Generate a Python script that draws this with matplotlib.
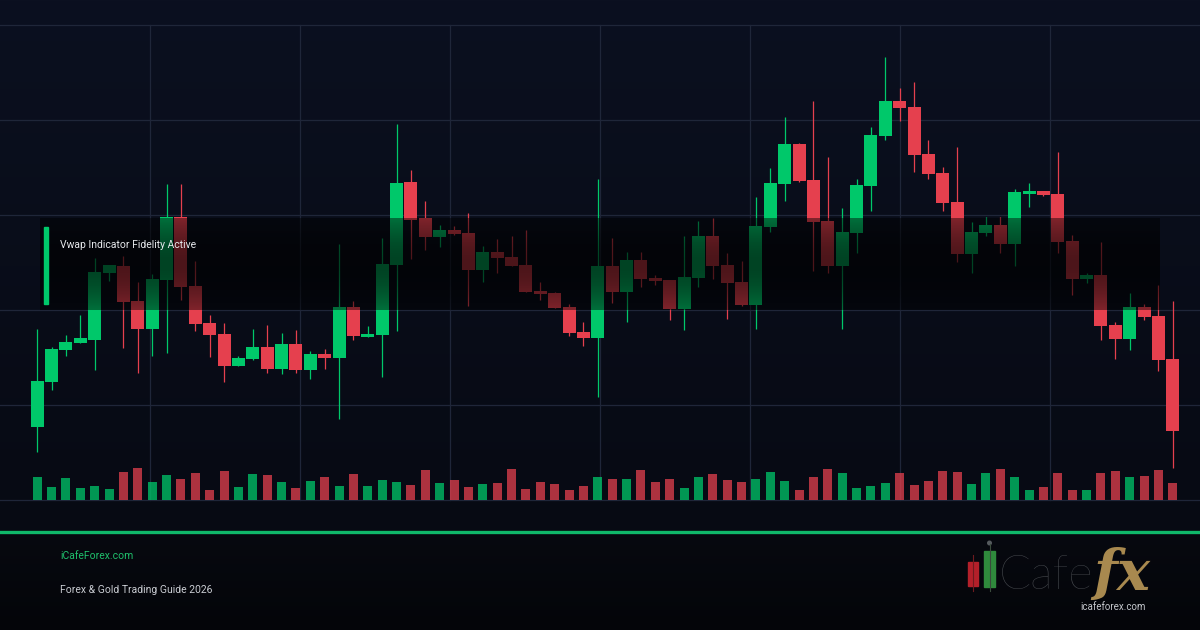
import numpy as np
import matplotlib.pyplot as plt
from matplotlib.colors import to_rgb
from matplotlib.patches import Rectangle, Circle
from matplotlib.lines import Line2D

# OHLC (80 candles)
opens = [2614.7, 2623.7, 2630.1, 2631.5, 2632.0, 2645.5, 2646.8, 2639.8, 2634.2, 2644.0,
         2656.6, 2642.8, 2635.5, 2633.2, 2626.9, 2628.2, 2630.6, 2626.3, 2631.2, 2626.1,
         2629.2, 2628.5, 2638.6, 2632.6, 2633.0, 2647.0, 2663.5, 2656.3, 2652.7, 2654.0,
         2653.4, 2646.0, 2649.6, 2648.6, 2647.0, 2641.8, 2641.4, 2638.6, 2633.7, 2632.4,
         2646.8, 2641.6, 2648.0, 2644.4, 2644.0, 2638.2, 2644.4, 2652.8, 2647.0, 2643.6,
         2639.0, 2654.6, 2663.2, 2671.2, 2664.0, 2655.8, 2646.8, 2653.4, 2662.8, 2672.8,
         2679.8, 2678.6, 2669.2, 2665.4, 2659.6, 2649.2, 2653.4, 2655.0, 2651.2, 2661.2,
         2661.8, 2661.2, 2651.8, 2644.2, 2645.0, 2635.0, 2632.2, 2638.6, 2636.8, 2628.2]
highs = [2634.2, 2630.7, 2633.0, 2637.1, 2648.5, 2647.1, 2648.8, 2643.6, 2645.3, 2663.2,
         2663.2, 2647.8, 2637.0, 2635.4, 2628.9, 2634.2, 2635.0, 2633.4, 2634.0, 2629.8,
         2630.2, 2651.2, 2639.8, 2634.8, 2652.4, 2675.2, 2666.0, 2659.8, 2655.0, 2654.8,
         2657.4, 2650.8, 2652.3, 2652.9, 2654.1, 2643.6, 2641.6, 2639.2, 2635.7, 2664.2,
         2652.5, 2649.6, 2649.6, 2645.0, 2644.0, 2652.8, 2655.8, 2656.4, 2649.4, 2647.8,
         2660.6, 2666.4, 2676.6, 2671.4, 2679.8, 2668.6, 2658.4, 2664.2, 2674.6, 2688.6,
         2682.4, 2683.6, 2672.0, 2666.6, 2670.6, 2655.6, 2656.6, 2656.6, 2662.2, 2663.4,
         2661.8, 2669.6, 2653.0, 2645.4, 2651.6, 2635.6, 2641.4, 2639.2, 2643.0, 2639.8]
lows = [2609.7, 2622.1, 2628.8, 2631.5, 2626.0, 2643.8, 2630.5, 2625.5, 2628.9, 2629.5,
        2640.0, 2633.8, 2628.7, 2623.7, 2626.9, 2628.1, 2625.5, 2625.3, 2625.5, 2624.3,
        2626.3, 2616.3, 2632.1, 2632.6, 2624.7, 2633.9, 2648.3, 2650.0, 2650.7, 2653.1,
        2638.9, 2643.7, 2645.4, 2646.9, 2641.6, 2640.0, 2638.4, 2632.9, 2630.9, 2620.7,
        2639.5, 2635.7, 2642.7, 2643.0, 2636.0, 2634.0, 2642.7, 2644.2, 2636.2, 2638.8,
        2634.2, 2653.6, 2659.8, 2663.6, 2645.9, 2645.4, 2634.2, 2649.4, 2657.8, 2672.0,
        2675.8, 2665.6, 2664.2, 2657.8, 2647.6, 2645.4, 2652.8, 2649.4, 2646.8, 2658.6,
        2660.8, 2649.4, 2641.0, 2643.4, 2632.0, 2628.2, 2630.0, 2636.0, 2625.8, 2606.4]
closes = [2623.8, 2630.2, 2631.6, 2632.3, 2645.6, 2646.9, 2639.6, 2634.2, 2644.2, 2656.6,
          2642.6, 2635.2, 2633.0, 2626.9, 2628.4, 2630.6, 2626.3, 2631.2, 2626.1, 2629.2,
          2628.5, 2638.6, 2632.8, 2633.2, 2647.2, 2663.5, 2656.1, 2652.7, 2654.0, 2653.3,
          2646.0, 2649.6, 2648.5, 2646.9, 2641.6, 2641.2, 2638.4, 2633.4, 2632.4, 2646.8,
          2641.6, 2648.0, 2644.2, 2643.8, 2638.2, 2644.6, 2652.8, 2646.9, 2643.4, 2639.0,
          2654.8, 2663.4, 2671.2, 2663.8, 2655.7, 2646.8, 2653.6, 2663.0, 2673.0, 2679.8,
          2678.5, 2669.0, 2665.2, 2659.4, 2649.2, 2653.6, 2655.0, 2651.2, 2661.6, 2661.8,
          2661.0, 2651.6, 2644.2, 2645.0, 2634.8, 2632.2, 2638.6, 2636.6, 2628.0, 2613.8]
volumes = [2300, 1300, 2200, 1200, 1400, 1100, 2800, 3200, 1800, 2500,
           2100, 2700, 1000, 2900, 1300, 2600, 2500, 1800, 1200, 1900,
           2300, 1400, 2600, 1400, 2000, 1800, 1500, 3000, 1700, 2000,
           1300, 1600, 1700, 3100, 1100, 1800, 1600, 1000, 1400, 2300,
           2100, 2100, 3000, 1800, 2100, 1200, 2300, 2600, 2000, 1800,
           2100, 2800, 1900, 1000, 2300, 3100, 2700, 1200, 1400, 1700,
           2700, 1500, 1900, 2900, 2800, 1600, 2700, 3100, 2300, 1000,
           1300, 2700, 1000, 1000, 2700, 2900, 2300, 2400, 3000, 1700]

label_text = "Vwap Indicator Fidelity Active"
site_text = "iCafeForex.com"
guide_text = "Forex & Gold Trading Guide 2026"

GREEN = '#00c86a'
RED = '#e5404e'
GRID = '#1f2639'

W, H = 1200, 630


# layout helpers: pixel position -> data coords
def px_x(px):
    return (px - 30) / 14.375 - 0.5


def px_p(py):
    return 2700 - 0.2 * py


fig = plt.figure(figsize=(12, 6.3), dpi=100)
fig.patch.set_facecolor('#080b14')

# background gradient
ax_bg = fig.add_axes([0, 0, 1, 1])
grad = np.zeros((H, 1, 3))
top_c, mid_c = np.array(to_rgb('#0b1020')), np.array(to_rgb('#070a13'))
ft_c, fb_c = np.array(to_rgb('#070910')), np.array(to_rgb('#040509'))
for r in range(H):
    if r < 530:
        t = r / 530
        grad[r, 0] = top_c * (1 - t) + mid_c * t
    else:
        t = (r - 530) / 100
        grad[r, 0] = ft_c * (1 - t) + fb_c * t
ax_bg.imshow(grad, aspect='auto', extent=[0, 1, 0, 1])
ax_bg.set_xlim(0, 1)
ax_bg.set_ylim(0, 1)
ax_bg.axis('off')

# price chart (plot area spans y 25..500 px)
ax = fig.add_axes([0, 130 / H, 1, 475 / H])
ax.set_facecolor('none')
o = np.array(opens)
c = np.array(closes)
x = np.arange(len(o))
cols = [GREEN if cc >= oo else RED for oo, cc in zip(o, c)]
ax.vlines(x, lows, highs, colors=cols, lw=0.9, zorder=3)
ax.bar(x, np.maximum(np.abs(c - o), 0.25), bottom=np.minimum(o, c), width=0.9,
       color=cols, zorder=4)

# dark overlay band with vertical alpha profile
tt = np.linspace(0, 1, 100)
alpha = 0.45 + 0.22 * np.sin(np.pi * tt)
rgba = np.zeros((100, 1, 4))
rgba[:, 0, 3] = alpha
ax.imshow(rgba, extent=[px_x(40), px_x(1160), px_p(310), px_p(218)], aspect='auto',
          interpolation='bilinear', zorder=5)
ax.add_patch(Rectangle((px_x(44), px_p(304)), px_x(48) - px_x(44), px_p(227) - px_p(304),
                       color=GREEN, zorder=6))
ax.text(px_x(60), px_p(245), label_text, va='center', ha='left', fontsize=7.5,
        color='#e6e8ec', family=['Roboto', 'DejaVu Sans'], zorder=7)

ax.set_xlim(px_x(0), px_x(W))
ax.set_ylim(px_p(500), px_p(25))
ax.set_yticks(np.arange(2600, 2700, 19))
ax.set_xticks([px_x(v) for v in range(150, W, 150)])
ax.grid(True, color=GRID, lw=0.9)
for gl in ax.get_xgridlines() + ax.get_ygridlines():
    gl.set_clip_on(False)
ax.set_axisbelow(True)
ax.tick_params(length=0, labelbottom=False, labelleft=False)
for s in ax.spines.values():
    s.set_visible(False)

# volume
ax_v = fig.add_axes([0, 130 / H, 1, 100 / H])
ax_v.set_facecolor('none')
ax_v.bar(x, volumes, width=0.63, color=cols, alpha=0.75)
ax_v.set_xlim(px_x(0), px_x(W))
ax_v.set_ylim(0, 10000)
ax_v.axis('off')

# separator + footer
fig.add_artist(Line2D([0, 1], [1 - 532 / H] * 2, transform=fig.transFigure,
                      color='#10b86a', lw=2.4))
fig.text(60 / W, 1 - 556 / H, site_text, color='#1fc06c', fontsize=7.5, va='center',
         family=['Roboto', 'DejaVu Sans'])
fig.text(60 / W, 1 - 590 / H, guide_text, color='#c9ccd2', fontsize=7.5, va='center',
         family=['Roboto', 'DejaVu Sans'])

# logo
ax_l = fig.add_axes([0, 0, 1, 1])
ax_l.set_xlim(0, W)
ax_l.set_ylim(H, 0)
ax_l.axis('off')
ax_l.plot([973, 973], [555, 591], color='#6d1a1f', lw=0.8)
ax_l.add_patch(Rectangle((968, 562), 10, 24, color='#b3202a'))
ax_l.plot([989.5, 989.5], [544, 591], color='#3a4a3c', lw=0.8)
ax_l.add_patch(Circle((989.5, 543), 1.8, color='#555a5e'))
ax_l.add_patch(Rectangle((984, 551), 11, 36, color='#2f8a3c'))
ax_l.text(999, 589, 'Cafe', fontsize=34, color='#4a4d52', family=['Lato', 'DejaVu Sans'],
          fontweight='light', va='baseline')
ax_l.text(1093, 590, 'fx', fontsize=40, color='#a8894f', family='DejaVu Serif',
          style='italic', fontweight='bold', va='baseline')
ax_l.text(1113, 607, 'icafeforex.com', fontsize=7, color='#c4c7cc', ha='center',
          va='center', family=['Roboto', 'DejaVu Sans'])

fig.savefig('out.png', dpi=100, facecolor=fig.get_facecolor())
